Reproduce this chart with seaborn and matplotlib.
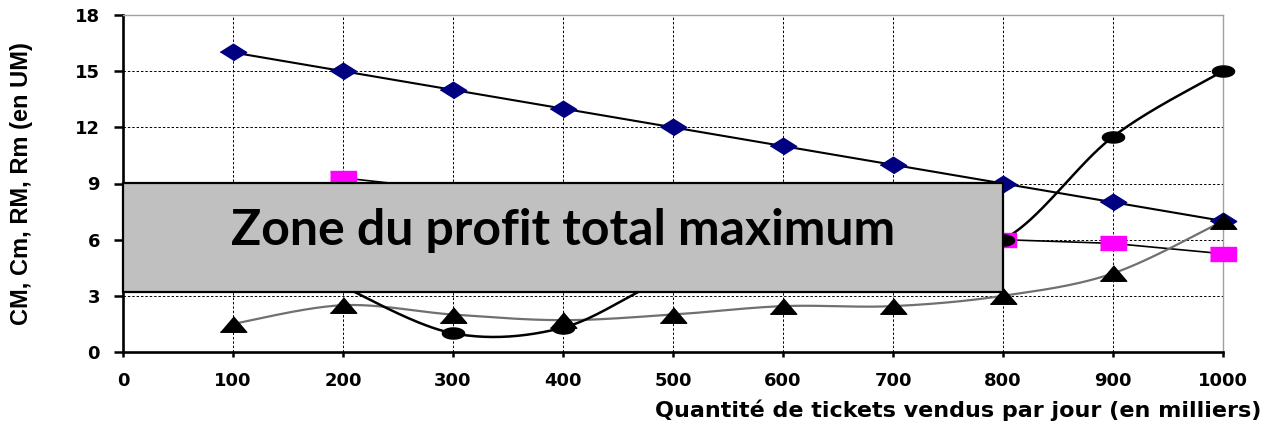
import numpy as np
import pandas as pd
import matplotlib
matplotlib.use("Agg")
import matplotlib.pyplot as plt
from matplotlib.patches import Rectangle
import seaborn as sns

# Data (x = thousands of tickets per day)
qty = [100, 200, 300, 400, 500, 600, 700, 800, 900, 1000]
rm_vals = [16, 15, 14, 13, 12, 11, 10, 9, 8, 7]                       # diamonds
cmarg_qty = [200, 300, 400, 500, 600, 700, 800, 900, 1000]
cmarg_vals = [3.5, 1.0, 1.3, 4.0, 4.8, 5.4, 6.0, 11.5, 15.0]          # circles
rmarg_qty = [200, 300, 400, 500, 600, 700, 800, 900, 1000]
rmarg_vals = [9.3, 8.65, 8.2, 7.6, 7.0, 6.5, 6.0, 5.8, 5.25]          # squares
cm_vals = [1.5, 2.5, 2.0, 1.7, 2.0, 2.45, 2.45, 3.0, 4.2, 7.0]        # triangles

x_ticks = list(range(0, 1001, 100))
y_ticks = list(range(0, 19, 3))
zone_x = [0, 800]
zone_y = [3.2, 9.0]
zone_text = "Zone du profit total maximum"


def smooth(xs, ys, n=40):
    # Excel-like smoothed line (cubic bezier through the points)
    pts = np.column_stack([xs, ys]).astype(float)
    out = []
    for i in range(len(pts) - 1):
        p0 = pts[max(i - 1, 0)]
        p1 = pts[i]
        p2 = pts[i + 1]
        p3 = pts[min(i + 2, len(pts) - 1)]
        c1 = p1 + (p2 - p0) / 6
        c2 = p2 - (p3 - p1) / 6
        t = np.linspace(0, 1, n)[:, None]
        seg = (1 - t) ** 3 * p1 + 3 * (1 - t) ** 2 * t * c1 + 3 * (1 - t) * t ** 2 * c2 + t ** 3 * p2
        out.append(seg if i == 0 else seg[1:])
    s = np.vstack(out)
    return pd.DataFrame({"x": s[:, 0], "y": s[:, 1]})


sns.set_style("white")
plt.rcParams["font.family"] = ["DejaVu Sans"]
for key in ["text.color", "axes.labelcolor", "xtick.color", "ytick.color"]:
    plt.rcParams[key] = "black"

fig = plt.figure(figsize=(12.72, 4.28), dpi=100)
ax = fig.add_axes([123 / 1272, 1 - 352 / 428, 1100 / 1272, 337 / 428])

# wide markers (the original picture is stretched horizontally)
diamond = [(-1.6, 0), (0, 1), (1.6, 0), (0, -1)]
square = [(-1.8, -1), (1.8, -1), (1.8, 1), (-1.8, 1)]
tri = [(-1.7, -1), (1.7, -1), (0, 1)]
th = np.linspace(0, 2 * np.pi, 40)
ellipse = list(zip(2.0 * np.cos(th), np.sin(th)))

# lines
sns.lineplot(x=qty, y=rm_vals, ax=ax, color="black", linewidth=1.5, zorder=2)
sns.lineplot(x=rmarg_qty, y=rmarg_vals, ax=ax, color="black", linewidth=1.2, zorder=2)
d = smooth(qty, cm_vals)
sns.lineplot(data=d, x="x", y="y", ax=ax, color="#707070", linewidth=1.6,
             sort=False, estimator=None, zorder=2)
d = smooth(cmarg_qty, cmarg_vals)
sns.lineplot(data=d, x="x", y="y", ax=ax, color="black", linewidth=1.8,
             sort=False, estimator=None, zorder=2)

# markers
ax.plot(qty, rm_vals, linestyle="none", marker=diamond, markersize=19,
        color="#000080", clip_on=False, zorder=3)
ax.plot(rmarg_qty, rmarg_vals, linestyle="none", marker=square, markersize=19,
        color="#FF00FF", clip_on=False, zorder=3)
ax.plot(cmarg_qty, cmarg_vals, linestyle="none", marker=ellipse, markersize=16,
        color="black", clip_on=False, zorder=3)
ax.plot(qty, cm_vals, linestyle="none", marker=tri, markersize=19,
        color="black", clip_on=False, zorder=3)

# grey zone box
ax.add_patch(Rectangle((zone_x[0], zone_y[0]), zone_x[1] - zone_x[0], zone_y[1] - zone_y[0],
                       facecolor="#C0C0C0", edgecolor="black", linewidth=1.6,
                       zorder=5, clip_on=False))
ax.text(sum(zone_x) / 2, 5.72, zone_text, ha="center", va="baseline",
        fontsize=36, fontweight="bold", family=["Lato", "DejaVu Sans"], zorder=6)

ax.set_xlim(0, 1000)
ax.set_ylim(0, 18)
ax.set_xticks(x_ticks)
ax.set_yticks(y_ticks)
ax.grid(True, color="black", linestyle=(0, (2.5, 2)), linewidth=0.7)
ax.set_axisbelow(True)

for side in ["left", "bottom"]:
    ax.spines[side].set_color("black")
    ax.spines[side].set_linewidth(1.9)
for side in ["top", "right"]:
    ax.spines[side].set_color("#A0A0A0")
    ax.spines[side].set_linewidth(1.0)

ax.tick_params(axis="y", direction="out", length=6.5, width=1.8, pad=10,
               labelsize=13, left=True)
ax.tick_params(axis="x", direction="out", length=3.5, width=1.8, pad=11,
               labelsize=13, bottom=True)
for lab in ax.get_xticklabels() + ax.get_yticklabels():
    lab.set_fontweight("bold")

ax.set_ylabel("CM, Cm, RM, Rm (en UM)", fontsize=17, fontweight="bold",
              family=["Liberation Sans", "DejaVu Sans"], va="center")
ax.yaxis.set_label_coords(-0.092, 0.5)
ax.set_xlabel("Quantité de tickets vendus par jour (en milliers)", fontsize=16,
              fontweight="bold", ha="right", va="center")
ax.xaxis.set_label_coords(1.035, -0.172)

fig.savefig("out.png", dpi=100)
